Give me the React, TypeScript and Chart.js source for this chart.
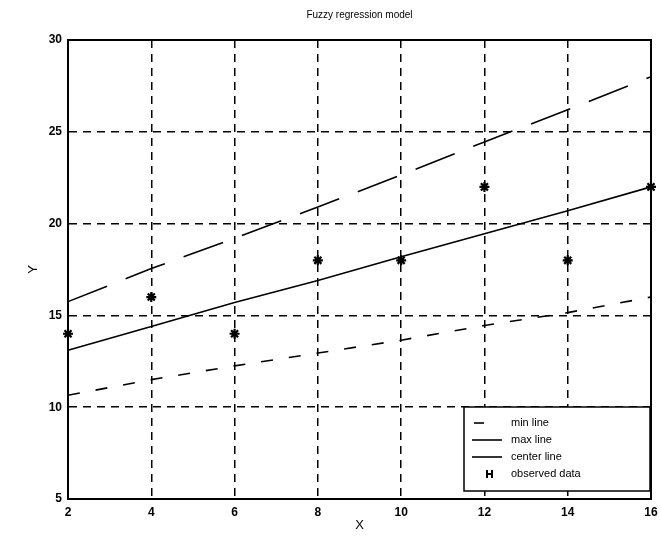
import React, { useEffect, useRef } from "react";
import { Chart, registerables } from "chart.js";

Chart.register(...registerables);

const xValues = [2, 4, 6, 8, 10, 12, 14, 16];
const minLine = [10.65, 11.5, 12.25, 12.95, 13.65, 14.45, 15.15, 16.0];
const maxLine = [15.75, 17.55, 19.2, 20.9, 22.65, 24.45, 26.2, 28.0];
const centerLine = [13.1, 14.4, 15.7, 16.9, 18.2, 19.45, 20.7, 22.0];
const observedX = [2, 4, 6, 8, 10, 12, 14, 16];
const observedY = [14, 16, 14, 18, 18, 22, 18, 22];
const seriesLabels = ["min line", "max line", "center line", "observed data"];
const chartTitle = "Fuzzy regression model";
const xTitle = "X";
const yTitle = "Y";

const FONT = "'Liberation Sans', Arial, sans-serif";

const frameAndLegend = {
  id: "frameAndLegend",
  afterDraw(chart: any) {
    const { ctx, chartArea } = chart;
    const { left, right, top, bottom } = chartArea;
    ctx.save();
    ctx.strokeStyle = "#000";
    ctx.lineWidth = 2;
    ctx.setLineDash([]);
    ctx.strokeRect(left, top, right - left, bottom - top);

    const bw = 186;
    const bh = 84;
    const bx = right - 1 - bw;
    const by = bottom - 8 - bh;
    ctx.fillStyle = "#fff";
    ctx.fillRect(bx, by, bw, bh);
    ctx.lineWidth = 1.5;
    ctx.strokeRect(bx, by, bw, bh);

    ctx.font = `11px ${FONT}`;
    ctx.textBaseline = "middle";
    ctx.textAlign = "left";
    chart.data.datasets.forEach((ds: any, i: number) => {
      const y = by + 16 + i * 17;
      const x0 = bx + 8;
      const x1 = bx + 38;
      ctx.strokeStyle = "#000";
      ctx.fillStyle = "#000";
      if (ds.showLine === false) {
        const cx = (x0 + x1) / 2 + 3;
        ctx.lineWidth = 2;
        ctx.beginPath();
        ctx.moveTo(cx - 3, y - 4);
        ctx.lineTo(cx - 3, y + 4);
        ctx.moveTo(cx + 2, y - 4);
        ctx.lineTo(cx + 2, y + 4);
        ctx.moveTo(cx - 4, y);
        ctx.lineTo(cx + 3, y);
        ctx.stroke();
      } else {
        ctx.lineWidth = 1.6;
        const dash = ds.borderDash || [];
        ctx.beginPath();
        if (dash.length && dash[0] < 30) {
          ctx.moveTo(x0 + 2, y);
          ctx.lineTo(x0 + 2 + dash[0] - 2, y);
        } else {
          ctx.moveTo(x0, y);
          ctx.lineTo(x1, y);
        }
        ctx.stroke();
      }
      ctx.fillStyle = "#000";
      ctx.fillText(ds.label, bx + 47, y);
    });
    ctx.restore();
  },
};

export default function App() {
  const ref = useRef<HTMLCanvasElement | null>(null);

  useEffect(() => {
    document.body.style.margin = "0";
    const canvas = ref.current;
    if (!canvas) return;
    const toPts = (xs: number[], ys: number[]) => xs.map((x, i) => ({ x, y: ys[i] }));
    const chart = new Chart(canvas, {
      type: "scatter",
      data: {
        datasets: [
          {
            label: seriesLabels[0],
            data: toPts(xValues, minLine),
            showLine: true,
            borderColor: "#000",
            borderWidth: 1.6,
            borderDash: [12, 16],
            pointRadius: 0,
            fill: false,
          },
          {
            label: seriesLabels[1],
            data: toPts(xValues, maxLine),
            showLine: true,
            borderColor: "#000",
            borderWidth: 1.6,
            borderDash: [42, 20],
            pointRadius: 0,
            fill: false,
          },
          {
            label: seriesLabels[2],
            data: toPts(xValues, centerLine),
            showLine: true,
            borderColor: "#000",
            borderWidth: 1.6,
            pointRadius: 0,
            fill: false,
          },
          {
            label: seriesLabels[3],
            data: toPts(observedX, observedY),
            showLine: false,
            borderColor: "#000",
            backgroundColor: "#000",
            pointStyle: "star",
            pointRadius: 5,
            borderWidth: 2.2,
          },
        ],
      },
      options: {
        responsive: false,
        animation: false,
        clip: false as any,
        layout: { padding: { left: 0, right: 9, top: 0, bottom: 0 } },
        plugins: {
          legend: { display: false },
          tooltip: { enabled: false },
          title: {
            display: true,
            text: chartTitle,
            fullSize: false,
            color: "#000",
            font: { family: FONT, size: 10, weight: "normal" },
            padding: { top: 9, bottom: 19 },
          },
        },
        scales: {
          x: {
            type: "linear",
            min: 2,
            max: 16,
            ticks: {
              stepSize: 2,
              color: "#000",
              font: { family: FONT, size: 12, weight: "bold" },
              padding: 6,
              maxRotation: 0,
            },
            grid: { color: "#000", lineWidth: 1.5, drawTicks: false },
            border: { color: "#000", width: 2, dash: [8, 6] },
            title: {
              display: true,
              text: xTitle,
              color: "#000",
              font: { family: FONT, size: 13 },
              padding: { top: 0, bottom: 11.5 },
            },
            afterFit: (s: any) => {
              s.height = 46;
              s.paddingLeft = 0;
              s.paddingRight = 0;
            },
          },
          y: {
            type: "linear",
            min: 5,
            max: 30,
            ticks: {
              stepSize: 5,
              color: "#000",
              font: { family: FONT, size: 12, weight: "bold" },
              padding: 6,
            },
            grid: { color: "#000", lineWidth: 1.5, drawTicks: false },
            border: { color: "#000", width: 2, dash: [8, 6] },
            title: {
              display: true,
              text: yTitle,
              color: "#000",
              font: { family: FONT, size: 13 },
              padding: { top: 26, bottom: 0 },
            },
            afterFit: (s: any) => {
              s.width = 68;
              s.paddingTop = 0;
              s.paddingBottom = 0;
            },
          },
        },
      },
      plugins: [frameAndLegend],
    });
    return () => chart.destroy();
  }, []);

  return (
    <div style={{ width: 660, height: 545, background: "#fff" }}>
      <canvas ref={ref} width={660} height={545} />
    </div>
  );
}
